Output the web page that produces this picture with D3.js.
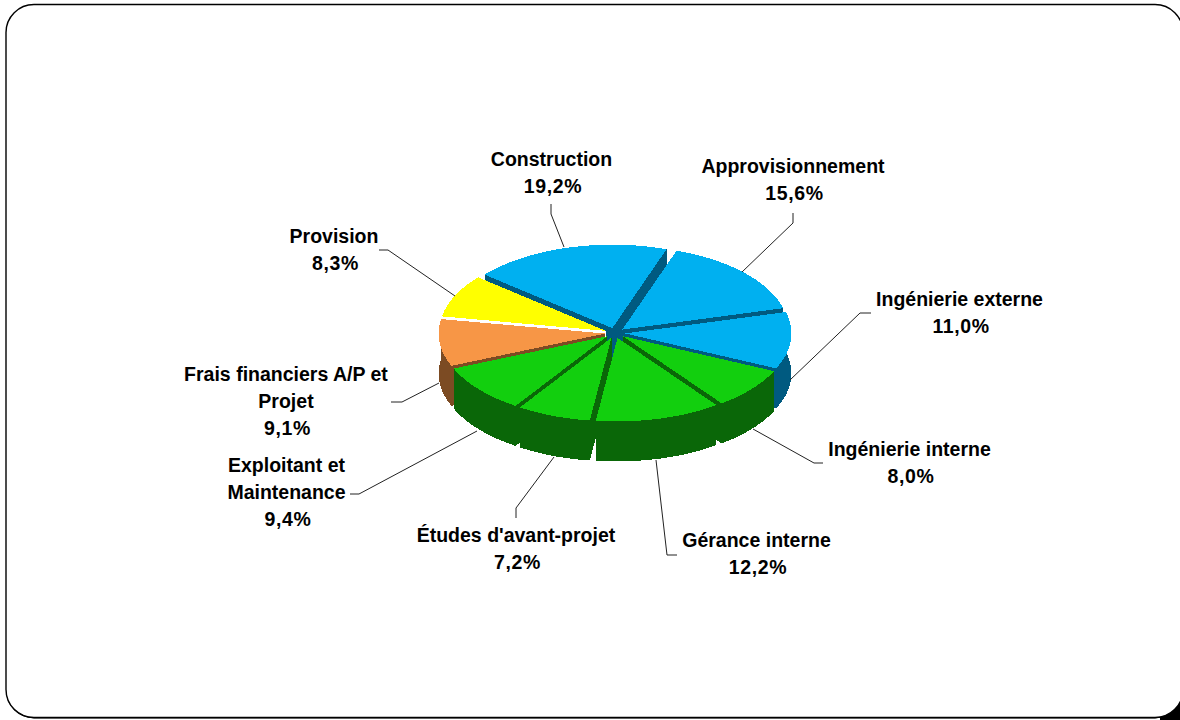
<!DOCTYPE html>
<html><head><meta charset="utf-8">
<script src="https://cdn.jsdelivr.net/npm/d3@7/dist/d3.min.js"></script>
<style>html,body{margin:0;padding:0;background:#fff;overflow:hidden}svg{display:block}text{font-family:"Liberation Sans",Arial,sans-serif;font-weight:700;font-size:19.5px;fill:#000}</style>
</head><body><svg id="c" width="1180" height="720"></svg>
<script>
// Budget breakdown by item, clockwise from the top of the pie
const categories = ["Approvisionnement","Ingénierie externe","Ingénierie interne","Gérance interne","Études d'avant-projet","Exploitant et Maintenance","Frais financiers A/P et Projet","Provision","Construction"];
const shares = [15.6,11.0,8.0,12.2,7.2,9.4,9.1,8.3,19.2];
const topColors = ["#00B0F0","#00B0F0","#12CF0E","#12CF0E","#12CF0E","#12CF0E","#F79646","#FFFF00","#00B0F0"];
const wallColors = ["#005A80","#005A80","#0A6708","#0A6708","#0A6708","#0A6708","#7C4B23","#FFFFFF","#005A80"];
const labelLines = [["Approvisionnement","15,6%"],["Ingénierie externe","11,0%"],["Ingénierie interne","8,0%"],["Gérance interne","12,2%"],["Études d'avant-projet","7,2%"],["Exploitant et","Maintenance","9,4%"],["Frais financiers A/P et","Projet","9,1%"],["Provision","8,3%"],["Construction","19,2%"]];
const labelAnchors = [[793,173],[959.5,306],[909.5,456],[756.5,547],[516,542],[286.5,472],[286,381],[334,243],[551.5,166]];
const leaders = [[[793,213],[793,223],[742,272]],[[871,313],[860,313],[790,380]],[[823,463],[814,463],[753,429]],[[677,555],[667,555],[656,460]],[[516,518],[516,508],[554,457]],[[350,494],[359,494],[477,431]],[[391,402],[402,402],[439,383]],[[379,250],[388,250],[455,296]],[[551,204],[551,214],[564,247]]];

const cx = 615, cy = 333, rx = 166.5, ry = 83.5, depth = 40, explode = 10;
const svg = d3.select("#c");

// Panel frame; the dark block shows only outside the lower right corner
svg.append("rect").attr("x",1160).attr("y",695).attr("width",20).attr("height",25).attr("fill","#000");
svg.append("rect").attr("x",6).attr("y",5.5).attr("width",1177).attr("height",713).attr("rx",28).attr("fill","#000");
svg.append("rect").attr("x",6).attr("y",4.5).attr("width",1177).attr("height",713).attr("rx",28)
  .attr("fill","#fff").attr("stroke","#000").attr("stroke-width",1.4);

const start = 19*Math.PI/180;
const arcs = d3.pie().sort(null).startAngle(start).endAngle(start+2*Math.PI)(shares);
const px = a => Math.sin(a)*rx, py = a => -Math.cos(a)*ry;

// Slices are painted from the back of the pie to the front
const slices = arcs.map((d,i)=>{
  const m=(d.startAngle+d.endAngle)/2;
  return {i,d,m,ox:cx+Math.sin(m)*explode,oy:cy-Math.cos(m)*explode*ry/rx};
}).sort((a,b)=>(-Math.cos(a.m))-(-Math.cos(b.m)));

const outline=(s,dy)=>{
  const n=Math.max(2,Math.ceil((s.d.endAngle-s.d.startAngle)*40));
  return d3.range(n+1).map(k=>{
    const a=s.d.startAngle+(s.d.endAngle-s.d.startAngle)*k/n;
    return [s.ox+px(a),s.oy+py(a)+dy];
  });
};
const line=d3.line();
const g=svg.append("g").attr("shape-rendering","crispEdges");
slices.forEach(s=>{
  const wall=wallColors[s.i], top=outline(s,0), low=outline(s,depth);
  const apex=[s.ox,s.oy], apexLow=[s.ox,s.oy+depth];
  g.append("path").attr("fill",wall).attr("d",line([apex,top[0],low[0],apexLow])+"Z");
  g.append("path").attr("fill",wall).attr("d",line([apex,top[top.length-1],low[low.length-1],apexLow])+"Z");
  g.append("path").attr("fill",wall).attr("d",line(top.concat(low.slice().reverse()))+"Z");
  g.append("path").attr("fill",topColors[s.i]).attr("d",line([apex].concat(top))+"Z");
});

// Leader lines and multi-line labels; percentage lines are set slightly wider
svg.append("g").selectAll("path").data(leaders).join("path").attr("d",d=>line(d)).attr("fill","none").attr("stroke","#222").attr("stroke-width",1);
svg.append("g").selectAll("text").data(labelLines).join("text")
  .attr("text-anchor","middle")
  .each(function(l,i){
    d3.select(this).selectAll("tspan").data(l).join("tspan")
      .attr("x",t=>labelAnchors[i][0]+(t.endsWith("%")?1.5:0)).attr("y",(t,k)=>labelAnchors[i][1]+k*27)
      .attr("letter-spacing",t=>t.endsWith("%")?0.6:0).text(t=>t);
  });
</script></body></html>
